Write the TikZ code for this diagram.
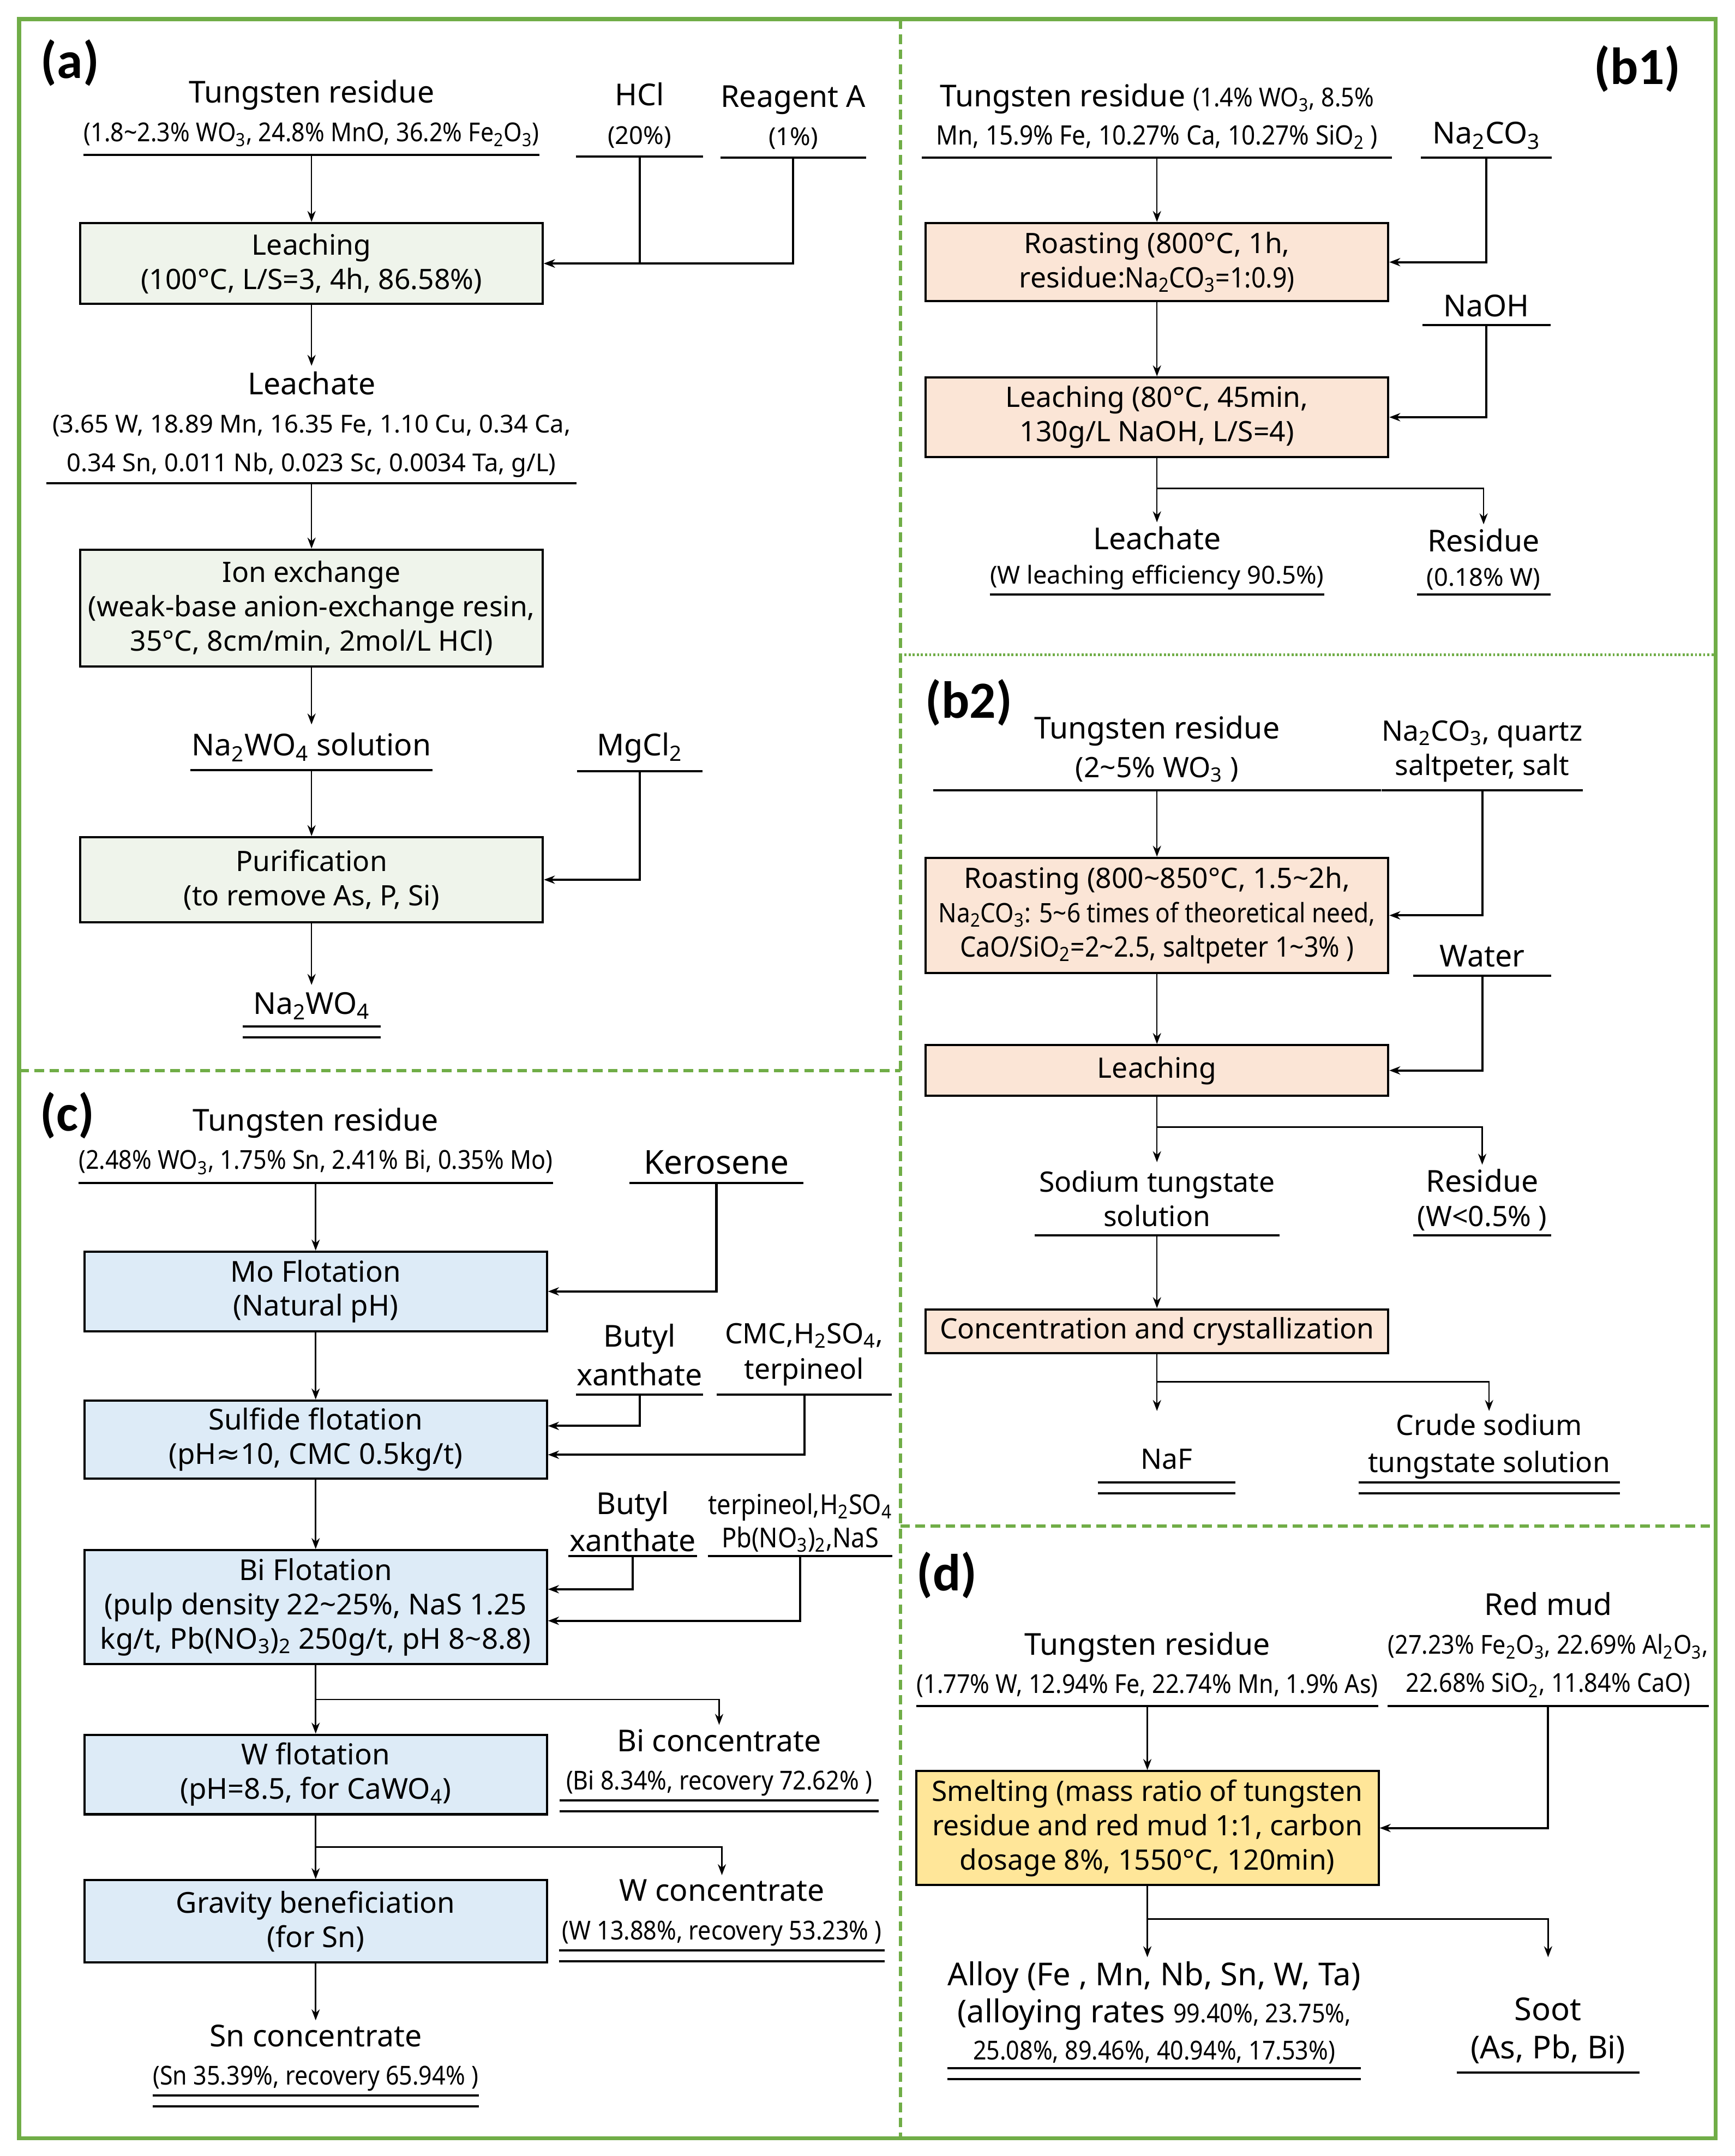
\documentclass[tikz,border=0pt]{standalone}
\usepackage{fontspec}
\setmainfont{Noto Sans}
\newfontfamily\cnd[FakeStretch=0.9]{Noto Sans}
\newfontfamily\symf{DejaVu Sans}
\newfontfamily\tagf{Carlito}
\usetikzlibrary{arrows.meta}
\definecolor{frame}{RGB}{112,173,71}
\definecolor{fillA}{RGB}{239,244,235}
\definecolor{fillB}{RGB}{251,229,214}
\definecolor{fillC}{RGB}{221,235,247}
\definecolor{fillD}{RGB}{255,230,153}
\newcommand{\fA}{\fontsize{20.5}{25}\selectfont}
\newcommand{\fB}{\cnd\fontsize{20.5}{25}\selectfont}
\newcommand{\fC}{\cnd\fontsize{19}{25}\selectfont}
\newcommand{\fD}{\fontsize{18}{25}\selectfont}
\newcommand{\ix}[1]{\textsubscript{#1}}
\newcommand{\tld}{\textasciitilde}

\begin{document}
\begin{tikzpicture}
            [x=1pt, y=-1pt, >={Stealth[length=8pt, width=6pt]},
            proc/.style={draw, fill=#1, line width=1.6pt, minimum width=337pt, align=center, inner sep=0pt, font=\fontsize{20.5}{25}\selectfont},
            feed/.style={align=center, anchor=south, inner xsep=0pt, inner ysep=6pt, font=\fontsize{22}{28}\selectfont,
              append after command={(\tikzlastnode.south west) edge[uline] (\tikzlastnode.south east)}},
            prod/.style={feed, inner ysep=3pt, append after command={([yshift=-8pt]\tikzlastnode.south west) edge[uline] ([yshift=-8pt]\tikzlastnode.south east)}},
            uline/.style={draw, line width=1.6pt},
            flow/.style={->, line width=1pt},
            side/.style={->, line width=1.6pt},
            tag/.style={font=\tagf\fontsize{38}{38}\selectfont\bfseries},
            sep/.style={draw=frame, line width=2.5pt, dash pattern=on 7pt off 4pt}]
            \fill[white] (0,0) rectangle (1264,1571);
            \useasboundingbox (0,0) rectangle (1264,1571);
            \draw[frame, line width=3pt] (14,14) rectangle (1250,1558);
            \draw[sep] (656,14) -- (656,1558);
            \draw[sep] (14,780) -- (656,780);
            \draw[sep, line width=2pt, dash pattern=on 1.5pt off 1.5pt] (656,477) -- (1250,477);
            \draw[sep] (656,1112) -- (1250,1112);

            \node[tag] (ta) at (51,46) {(a)};
            \node[feed, minimum width=328pt] (a0) at (227,113) {Tungsten residue\\{\fC(1.8\tld2.3\% WO\ix3, 24.8\% MnO, 36.2\% Fe\ix2O\ix3)}};
            \node[feed, minimum width=92pt] (a1) at (466,114) {HCl\\{\fD(20\%)}};
            \node[feed, minimum width=93pt] (a2) at (578,115) {Reagent A\\{\fD(1\%)}};
            \node[proc=fillA, minimum height=59pt] (a3) at (227,192) {Leaching\\(100°C, L/S=3, 4h, 86.58\%)};
            \node[feed, minimum width=386pt, inner ysep=4pt] (a4) at (227,352) {Leachate\\{\fD(3.65 W, 18.89 Mn, 16.35 Fe, 1.10 Cu, 0.34 Ca,}\\{\fD 0.34 Sn, 0.011 Nb, 0.023 Sc, 0.0034 Ta, g/L)}};
            \node[proc=fillA, minimum height=85pt] (a5) at (227,443) {Ion exchange\\(weak-base anion-exchange resin,\\35°C, 8cm/min, 2mol/L HCl)};
            \node[feed, minimum width=176pt] (a6) at (227,561) {Na\ix2WO\ix4 solution};
            \node[feed, minimum width=91pt] (a7) at (466,562) {MgCl\ix2};
            \node[proc=fillA, minimum height=62pt] (a8) at (227,641) {Purification\\(to remove As, P, Si)};
            \node[prod, minimum width=100pt, inner ysep=5pt] (a9) at (227,748) {Na\ix2WO\ix4};
            \draw[flow] (a0) -- (a3);
            \draw[side] (a1.south) |- (a3.east);
            \draw[side] (a2.south) |- (a3.east);
            \draw[flow] (a3) -- (a4);
            \draw[flow] (a4) -- (a5);
            \draw[flow] (a5) -- (a6);
            \draw[flow] (a6) -- (a8);
            \draw[side] (a7.south) |- (a8.east);
            \draw[flow] (a8) -- (a9);

            \node[tag] (tb1) at (1193,50) {(b1)};
            \node[feed, minimum width=342pt] (b0) at (843,115) {Tungsten residue {\fC(1.4\% WO\ix3, 8.5\%}\\{\fC\fontsize{19.5}{25}\selectfont Mn, 15.9\% Fe, 10.27\% Ca, 10.27\% SiO\ix2 )}};
            \node[feed, minimum width=95pt] (b1) at (1083,115) {Na\ix2CO\ix3};
            \node[proc=fillB, minimum height=57pt] (b2) at (843,191) {Roasting (800°C, 1h,\\residue:{\cnd Na\ix2CO\ix3=1:0.9)}};
            \node[feed, minimum width=93pt] (b3) at (1083,237) {NaOH};
            \node[proc=fillB, minimum height=58pt] (b4) at (843,304) {Leaching (80°C, 45min,\\130g/L NaOH, L/S=4)};
            \node[feed, minimum width=242pt, inner ysep=3pt, font=\fontsize{22}{25}\selectfont] (b5) at (843,433) {Leachate\\{\fD(W leaching efficiency 90.5\%)}};
            \node[feed, minimum width=97pt, inner ysep=3pt, font=\fontsize{22}{25}\selectfont] (b6) at (1081,433) {Residue\\{\fD(0.18\% W)}};
            \draw[flow] (b0) -- (b2);
            \draw[side] (b1.south) |- (b2.east);
            \draw[flow] (b2) -- (b4);
            \draw[side] (b3.south) |- (b4.east);
            \draw[flow] (b4) -- (b5);
            \draw[flow] (b4.south) -- ++(0,22) -| (b6.north);

            \node[tag] (tb2) at (706,512) {(b2)};
            \node[feed, minimum width=326pt] (s0) at (843,576) {Tungsten residue\\{\fA(2\tld5\% WO\ix3 )}};
            \node[feed, minimum width=140pt, font=\fontsize{20.5}{25}\selectfont] (s1) at (1080,576) {Na\ix2CO\ix3, quartz\\saltpeter, salt};
            \node[proc=fillB, minimum height=84pt] (s2) at (843,667) {Roasting (800\tld850°C, 1.5\tld2h,\\{\cnd\fontsize{19.5}{25}\selectfont Na\ix2CO\ix3: 5\tld6 times of theoretical need,}\\{\fB CaO/SiO\ix2=2\tld2.5, saltpeter 1\tld3\% )}};
            \node[feed, minimum width=100pt] (s3) at (1080,711) {Water};
            \node[proc=fillB, minimum height=37pt] (s4) at (843,780) {Leaching};
            \node[feed, minimum width=178pt, font=\fontsize{20.5}{25}\selectfont] (s5) at (843,900) {Sodium tungstate\\solution};
            \node[feed, minimum width=100pt, inner ysep=3pt, font=\fontsize{22}{25}\selectfont] (s6) at (1080,900) {Residue\\{\fA(W<0.5\% )}};
            \node[proc=fillB, minimum height=32pt] (s7) at (843,970) {Concentration and crystallization};
            \node[prod, minimum width=100pt, inner ysep=9pt, font=\fontsize{20.5}{25}\selectfont] (s8) at (850,1080) {NaF};
            \node[prod, minimum width=190pt, inner ysep=2pt, font=\fontsize{20.5}{27}\selectfont] (s9) at (1085,1080) {Crude sodium\\tungstate solution};
            \draw[flow] (s0) -- (s2);
            \draw[side] (s1.south) |- (s2.east);
            \draw[flow] (s2) -- (s4);
            \draw[side] (s3.south) |- (s4.east);
            \draw[flow] (s4) -- (s5);
            \draw[flow] (s4.south) -- ++(0,22) -| (s6.north);
            \draw[flow] (s5) -- (s7);
            \draw[flow] (s7.south) -- (s7.south |- s9.north);
            \draw[flow] (s7.south) -- ++(0,20) -| (s9.north);

            \node[tag] (tc) at (49,813) {(c)};
            \node[feed, minimum width=330pt] (c0) at (230,862) {Tungsten residue\\{\fC(2.48\% WO\ix3, 1.75\% Sn, 2.41\% Bi, 0.35\% Mo)}};
            \node[feed, minimum width=126pt, font=\fontsize{24}{28}\selectfont] (c1) at (522,862) {Kerosene};
            \node[proc=fillC, minimum height=58pt, font=\fontsize{21}{25}\selectfont] (c2) at (230,941) {Mo Flotation\\(Natural pH)};
            \node[feed, minimum width=92pt] (c3) at (466,1016) {Butyl\\xanthate};
            \node[feed, minimum width=127pt, font=\fontsize{20.5}{26}\selectfont] (c4) at (586,1016) {CMC,H\ix2SO\ix4,\\terpineol};
            \node[proc=fillC, minimum height=57pt, font=\fontsize{21}{25}\selectfont] (c5) at (230,1049) {Sulfide flotation\\(pH{\symf ≈}10, CMC 0.5kg/t)};
            \node[feed, minimum width=93pt, inner ysep=3pt, font=\fontsize{22}{27}\selectfont] (c6) at (461,1134) {Butyl\\xanthate};
            \node[feed, minimum width=130pt, inner ysep=3pt, font=\cnd\fontsize{20}{24}\selectfont] (c7) at (583,1134) {terpineol,H\ix2SO\ix4\\Pb(NO\ix3)\ix2,NaS};
            \node[proc=fillC, minimum height=83pt, font=\fontsize{21}{25}\selectfont] (c8) at (230,1171) {Bi Flotation\\(pulp density 22\tld25\%, NaS 1.25\\kg/t, Pb(NO\ix3)\ix2 250g/t, pH 8\tld8.8)};
            \node[prod, minimum width=232pt] (c9) at (524,1312) {Bi concentrate\\{\fC(Bi 8.34\%, recovery 72.62\% )}};
            \node[proc=fillC, minimum height=58pt, font=\fontsize{21}{25}\selectfont] (c10) at (230,1293) {W flotation\\(pH=8.5, for CaWO\ix4)};
            \node[prod, minimum width=237pt] (c11) at (526,1421) {W concentrate\\{\fC(W 13.88\%, recovery 53.23\% )}};
            \node[proc=fillC, minimum height=60pt, font=\fontsize{21}{25}\selectfont] (c12) at (230,1400) {Gravity beneficiation\\(for Sn)};
            \node[prod, minimum width=230pt] (c13) at (230,1527) {Sn concentrate\\{\fC(Sn 35.39\%, recovery 65.94\% )}};
            \draw[flow] (c0) -- (c2);
            \draw[side] (c1.south) |- (c2.east);
            \draw[flow] (c2) -- (c5);
            \draw[side] (c3.south) |- ([yshift=10pt]c5.east);
            \draw[side] (c4.south) |- ([yshift=-11pt]c5.east);
            \draw[flow] (c5) -- (c8);
            \draw[side] (c6.south) |- ([yshift=13pt]c8.east);
            \draw[side] (c7.south) |- ([yshift=-10pt]c8.east);
            \draw[flow] (c8) -- (c10);
            \draw[flow] (c8.south) -- ++(0,25) -| (c9.north);
            \draw[flow] (c10) -- (c12);
            \draw[flow] (c10.south) -- ++(0,23) -| (c11.north);
            \draw[flow] (c12) -- (c13);

            \node[tag] (td) at (690,1148) {(d)};
            \node[feed, minimum width=332pt] (d0) at (836,1243) {Tungsten residue\\{\fC(1.77\% W, 12.94\% Fe, 22.74\% Mn, 1.9\% As)}};
            \node[feed, minimum width=220pt] (d1) at (1128,1243) {Red mud\\{\fC(27.23\% Fe\ix2O\ix3, 22.69\% Al\ix2O\ix3,}\\{\fC 22.68\% SiO\ix2, 11.84\% CaO)}};
            \node[proc=fillD, minimum height=83pt] (d2) at (836,1332) {Smelting (mass ratio of tungsten\\residue and red mud 1:1, carbon\\dosage 8\%, 1550°C, 120min)};
            \node[prod, minimum width=282pt, font=\fontsize{23}{27}\selectfont] (d3) at (841,1507) {Alloy (Fe , Mn, Nb, Sn, W, Ta)\\(alloying rates {\fC 99.40\%, 23.75\%,}\\{\fC 25.08\%, 89.46\%, 40.94\%, 17.53\%)}};
            \node[feed, minimum width=133pt, font=\fontsize{23}{28}\selectfont] (d4) at (1128,1510) {Soot\\(As, Pb, Bi)};
            \draw[flow] (d0) -- (d2);
            \draw[side] (d1.south) |- (d2.east);
            \draw[flow] (d2.south) -- (d2.south |- d3.north);
            \draw[flow] (d2.south) -- ++(0,24) -| (d4 |- d3.north);
\end{tikzpicture}
\end{document}
